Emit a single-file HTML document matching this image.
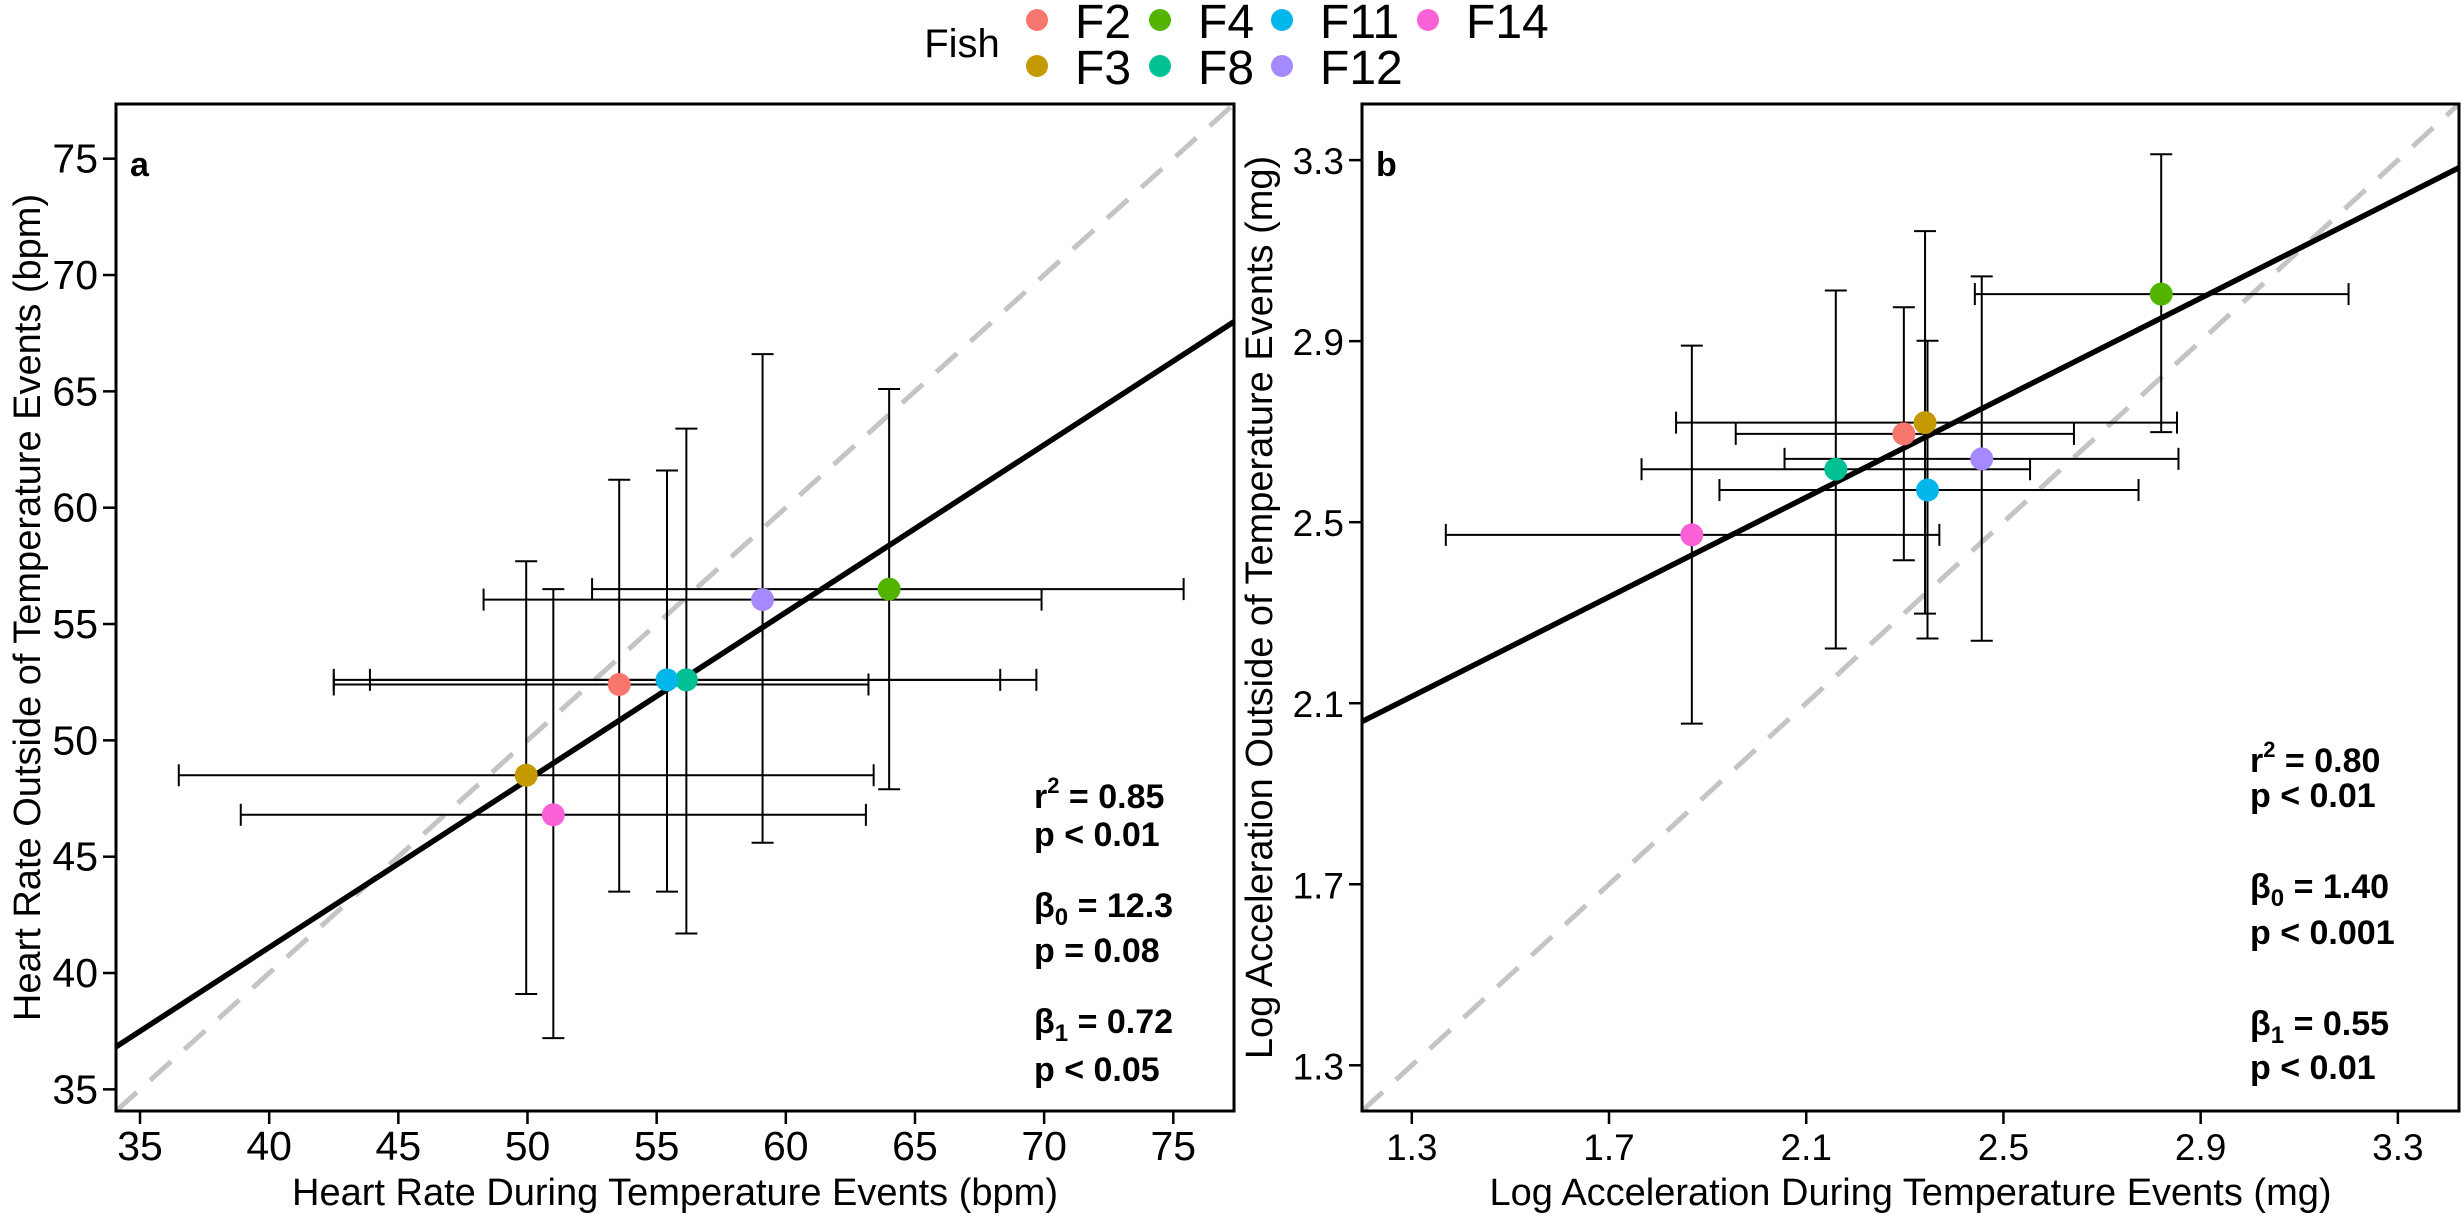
<!DOCTYPE html>
<html><head><meta charset="utf-8"><style>
html,body{margin:0;padding:0;background:#fff}
svg{display:block}
text{font-family:"Liberation Sans",sans-serif;fill:#000}
</style></head><body>
<svg id="chart" width="2464" height="1222" viewBox="0 0 2464 1222" xmlns="http://www.w3.org/2000/svg">
<g id="legend"></g>
<g id="pa"></g>
<g id="pb"></g>
</svg>
<script>
const fish = ["F2","F3","F4","F8","F11","F12","F14"];
const colors = ["#F8766D","#C49A00","#53B400","#00C094","#00B6EB","#A58AFF","#FB61D7"];
// Panel a: heart rate
const hrX = [53.55,49.95,64.0,56.15,55.4,59.1,51.0];
const hrY = [52.4,48.5,56.5,52.6,52.6,56.05,46.8];
const hrXlo = [42.5,36.5,52.5,42.5,43.9,48.3,38.9];
const hrXhi = [63.2,63.4,75.4,69.7,68.3,69.9,63.1];
const hrYlo = [43.5,39.1,47.9,41.7,43.5,45.6,37.2];
const hrYhi = [61.2,57.7,65.1,63.4,61.6,66.6,56.5];
const hrTicks = [35,40,45,50,55,60,65,70,75];
const hrFit = [12.3,0.72];
// Panel b: log acceleration
const acX = [2.298,2.341,2.82,2.16,2.346,2.456,1.868];
const acY = [2.695,2.72,3.004,2.617,2.571,2.64,2.472];
const acXlo = [1.957,1.836,2.442,1.766,1.924,2.056,1.369];
const acXhi = [2.643,2.852,3.2,2.554,2.774,2.855,2.37];
const acYlo = [2.416,2.298,2.699,2.221,2.243,2.238,2.055];
const acYhi = [2.975,3.143,3.313,3.012,2.901,3.043,2.89];
const acTicks = [1.3,1.7,2.1,2.5,2.9,3.3];
const acFit = [1.40,0.55];

const NS="http://www.w3.org/2000/svg";
function mk(parent,tag,attrs,txt){const e=document.createElementNS(NS,tag);for(const k in attrs)e.setAttribute(k,attrs[k]);if(txt!==undefined)e.textContent=txt;parent.appendChild(e);return e;}

function panel(g,cfg){
  const {x0,x1,y0,y1,dmin,dmax,ticks,X,Y,Xlo,Xhi,Ylo,Yhi,fit,fmt,letter,xt,yt,stats,statX,tickFont,tickW} = cfg;
  const sx=v=>x0+(v-dmin)/(dmax-dmin)*(x1-x0);
  const sy=v=>y1-(v-dmin)/(dmax-dmin)*(y1-y0);
  const cp=mk(g,'clipPath',{id:'c'+letter});
  mk(cp,'rect',{x:x0,y:y0,width:x1-x0,height:y1-y0});
  const plot=mk(g,'g',{'clip-path':'url(#c'+letter+')'});
  const d=mk(plot,'line',{x1:sx(dmin),y1:sy(dmin),x2:sx(dmax),y2:sy(dmax),stroke:'#c4c4c4','stroke-width':5,'stroke-dasharray':'28 18'});
  
  
  const r=mk(plot,'line',{x1:sx(dmin),y1:sy(fit[0]+fit[1]*dmin),x2:sx(dmax),y2:sy(fit[0]+fit[1]*dmax),stroke:'#000','stroke-width':5.5});
  
  
  const cap=11;
  for(let i=0;i<X.length;i++){
    const eg=mk(plot,'g',{stroke:'#000','stroke-width':2});
    
    
    const cx=sx(X[i]),cy=sy(Y[i]);
    mk(eg,'line',{x1:sx(Xlo[i]),y1:cy,x2:sx(Xhi[i]),y2:cy});
    mk(eg,'line',{x1:sx(Xlo[i]),y1:cy-cap,x2:sx(Xlo[i]),y2:cy+cap});
    mk(eg,'line',{x1:sx(Xhi[i]),y1:cy-cap,x2:sx(Xhi[i]),y2:cy+cap});
    mk(eg,'line',{x1:cx,y1:sy(Ylo[i]),x2:cx,y2:sy(Yhi[i])});
    mk(eg,'line',{x1:cx-cap,y1:sy(Ylo[i]),x2:cx+cap,y2:sy(Ylo[i])});
    mk(eg,'line',{x1:cx-cap,y1:sy(Yhi[i]),x2:cx+cap,y2:sy(Yhi[i])});
  }
  for(let i=0;i<X.length;i++){
    const c=mk(plot,'circle',{cx:sx(X[i]),cy:sy(Y[i]),r:11.5,fill:colors[i]});
    
    
  }
  const b=mk(g,'rect',{x:x0,y:y0,width:x1-x0,height:y1-y0,fill:'none',stroke:'#000','stroke-width':3});
  
  
  ticks.forEach(t=>{
    mk(g,'line',{x1:sx(t),y1:y1,x2:sx(t),y2:y1+13,stroke:'#000','stroke-width':2.5});
    const tx=mk(g,'text',{x:sx(t),y:1160,'text-anchor':'middle','font-size':tickFont,'font-weight':tickW},fmt(t));
    
    
    mk(g,'line',{x1:x0-13,y1:sy(t),x2:x0,y2:sy(t),stroke:'#000','stroke-width':2.5});
    const ty=mk(g,'text',{x:x0-18,y:sy(t)+14,'text-anchor':'end','font-size':tickFont,'font-weight':tickW},fmt(t));
    
    
  });
  const lt=mk(g,'text',{x:x0+14,y:176,'font-size':34,'font-weight':'bold'},letter);
  
  
  const xtt=mk(g,'text',{x:(x0+x1)/2,y:1205,'text-anchor':'middle','font-size':38},xt);
  
  
  const ytx=cfg.ytx;
  const ytt=mk(g,'text',{x:0,y:0,'text-anchor':'middle','font-size':38,transform:'translate('+ytx+','+((y0+y1)/2)+') rotate(-90)'},yt);
  
  
  stats.forEach(s=>{
    const t=mk(g,'text',{x:statX,y:s[0],'font-size':34,'font-weight':'bold'});
    t.innerHTML=s[1];
    
    
  });
}

panel(document.getElementById('pa'),{x0:116,x1:1234,y0:104,y1:1111,dmin:34.07,dmax:77.35,ticks:hrTicks,
  X:hrX,Y:hrY,Xlo:hrXlo,Xhi:hrXhi,Ylo:hrYlo,Yhi:hrYhi,fit:hrFit,fmt:t=>String(t),letter:'a',
  xt:'Heart Rate During Temperature Events (bpm)',yt:'Heart Rate Outside of Temperature Events (bpm)',ytx:40,
  tickFont:41,tickW:'normal',statX:1034,
  stats:[[808,'r<tspan dy="-15" font-size="22">2</tspan><tspan dy="15"> = 0.85</tspan>'],[846,'p &lt; 0.01'],
         [917,'β<tspan dy="8" font-size="24">0</tspan><tspan dy="-8"> = 12.3</tspan>'],[962,'p = 0.08'],
         [1033,'β<tspan dy="8" font-size="24">1</tspan><tspan dy="-8"> = 0.72</tspan>'],[1081,'p &lt; 0.05']]});

panel(document.getElementById('pb'),{x0:1362,x1:2459,y0:104,y1:1111,dmin:1.199,dmax:3.424,ticks:acTicks,
  X:acX,Y:acY,Xlo:acXlo,Xhi:acXhi,Ylo:acYlo,Yhi:acYhi,fit:acFit,fmt:t=>t.toFixed(1),letter:'b',
  xt:'Log Acceleration During Temperature Events (mg)',yt:'Log Acceleration Outside of Temperature Events (mg)',ytx:1272,
  tickFont:37,tickW:'normal',statX:2250,
  stats:[[772,'r<tspan dy="-15" font-size="22">2</tspan><tspan dy="15"> = 0.80</tspan>'],[807,'p &lt; 0.01'],
         [898,'β<tspan dy="8" font-size="24">0</tspan><tspan dy="-8"> = 1.40</tspan>'],[944,'p &lt; 0.001'],
         [1035,'β<tspan dy="8" font-size="24">1</tspan><tspan dy="-8"> = 0.55</tspan>'],[1079,'p &lt; 0.01']]});

// legend
const lg=document.getElementById('legend');
const ft=mk(lg,'text',{x:962,y:57,'text-anchor':'middle','font-size':40},'Fish');


const colX=[1037,1160,1282,1428];
fish.forEach((f,i)=>{
  const col=Math.floor(i/2), row=i%2;
  const cx=colX[col], cy=row?66:20;
  const e=mk(lg,'g',{});
  
  
  mk(e,'circle',{cx:cx,cy:cy,r:11,fill:colors[i]});
  mk(e,'text',{x:cx+38,y:cy+18,'font-size':48},f);
});
</script>
</body></html>
